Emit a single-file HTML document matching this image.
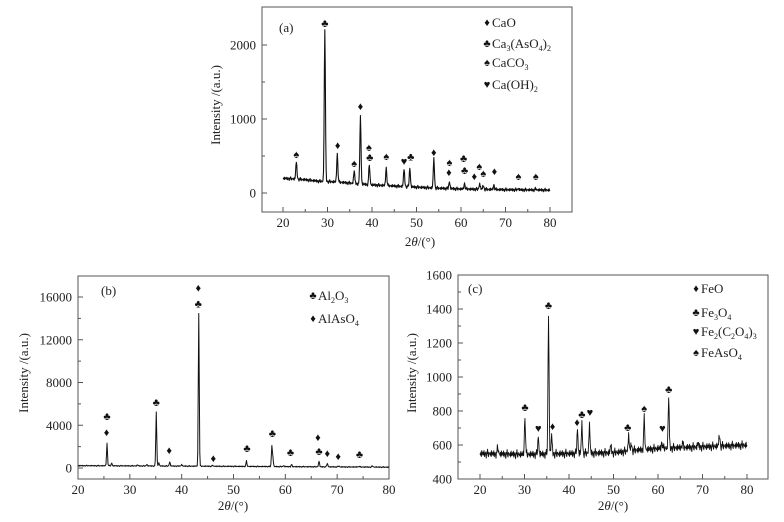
<!DOCTYPE html>
<html><head><meta charset="utf-8"><style>
html,body{margin:0;padding:0;background:#fff;}
svg{display:block;font-family:"Liberation Serif",serif;}
</style></head><body>
<svg id="fig" width="784" height="522" viewBox="0 0 784 522"></svg>
<script>
// ---------- Data: chart (a) ----------
const aPeakX = [23.0, 29.4, 32.2, 36.0, 37.4, 39.4, 43.2, 47.2, 48.5, 53.9, 57.4, 60.8, 64.2, 65.0, 67.4, 72.9, 76.8];
const aPeakY = [235, 2050, 380, 170, 915, 270, 240, 235, 250, 395, 90, 75, 75, 50, 60, 15, 15];
const aBaseX = [20, 25, 28, 32, 36, 40, 45, 50, 55, 60, 70, 80];
const aBaseY = [200, 180, 160, 150, 130, 110, 95, 80, 65, 55, 45, 40];
const aMarkSym = ["♠","♣","♦","♠","♦","♠","♣","♠","♥","♣","♦","♠","♦","♣","♣","♦","♠","♠","♦","♠","♠"];
const aMarkX = [23.0, 29.4, 32.3, 36.0, 37.4, 39.3, 39.5, 43.2, 47.2, 48.7, 53.9, 57.4, 57.3, 60.6, 60.8, 63.0, 64.1, 65.0, 67.5, 72.9, 76.8];
const aMarkY = [525, 2300, 650, 405, 1175, 620, 485, 500, 430, 490, 555, 420, 285, 475, 310, 230, 365, 270, 300, 230, 230];
const aLegendSym = ["♦","♣","♠","♥"];
const aLegendTxt = ["CaO","Ca<tspan font-size='8' dy='3'>3</tspan><tspan dy='-3'>(AsO</tspan><tspan font-size='8' dy='3'>4</tspan><tspan dy='-3'>)</tspan><tspan font-size='8' dy='3'>2</tspan>","CaCO<tspan font-size='8' dy='3'>3</tspan>","Ca(OH)<tspan font-size='8' dy='3'>2</tspan>"];
const aYTicks = [0, 1000, 2000];
const aXTicks = [20, 30, 40, 50, 60, 70, 80];

// ---------- Data: chart (b) ----------
const bPeakX = [25.6, 26.5, 31.5, 33.3, 35.1, 35.6, 37.7, 40.0, 43.3, 46.0, 52.5, 57.4, 57.6, 59.7, 61.2, 66.5, 68.1, 70.3, 74.2, 76.8];
const bPeakY = [2100, 250, 100, 150, 5100, 300, 400, 150, 14300, 80, 500, 1900, 800, 100, 200, 550, 350, 100, 80, 120];
const bBaseX = [20, 40, 60, 80];
const bBaseY = [220, 180, 130, 80];
const bMarkSym = ["♣","♦","♣","♦","♦","♣","♦","♣","♣","♣","♦","♣","♦","♦","♣"];
const bMarkX = [25.6, 25.5, 35.1, 37.6, 43.2, 43.2, 46.1, 52.6, 57.5, 61.0, 66.3, 66.5, 68.1, 70.2, 74.3];
const bMarkY = [4870, 3370, 6170, 1680, 16900, 15400, 940, 1870, 3270, 1500, 2900, 1590, 1400, 1120, 1310];
const bLegendSym = ["♣","♦"];
const bLegendTxt = ["Al<tspan font-size='8' dy='3'>2</tspan><tspan dy='-3'>O</tspan><tspan font-size='8' dy='3'>3</tspan>","AlAsO<tspan font-size='8' dy='3'>4</tspan>"];
const bYTicks = [0, 4000, 8000, 12000, 16000];
const bXTicks = [20, 30, 40, 50, 60, 70, 80];

// ---------- Data: chart (c) ----------
const cPeakX = [24.0, 30.1, 33.1, 35.4, 36.1, 41.9, 42.9, 44.6, 49.4, 53.4, 54.0, 56.9, 60.9, 62.4, 65.5, 69.0, 73.8];
const cPeakY = [40, 220, 100, 810, 110, 140, 175, 165, 45, 90, 40, 185, 40, 295, 30, 25, 65];
const cBaseX = [20, 30, 40, 50, 55, 60, 70, 80];
const cBaseY = [550, 545, 550, 555, 570, 580, 590, 600];
const cMarkSym = ["♣","♥","♣","♦","♦","♣","♥","♣","♠","♥","♣"];
const cMarkX = [30.1, 33.1, 35.4, 36.3, 41.8, 42.9, 44.7, 53.2, 56.9, 61.0, 62.4];
const cMarkY = [823, 700, 1424, 712, 735, 782, 794, 706, 818, 700, 929];
const cLegendSym = ["♦","♣","♥","♠"];
const cLegendTxt = ["FeO","Fe<tspan font-size='8' dy='3'>3</tspan><tspan dy='-3'>O</tspan><tspan font-size='8' dy='3'>4</tspan>","Fe<tspan font-size='8' dy='3'>2</tspan><tspan dy='-3'>(C</tspan><tspan font-size='8' dy='3'>2</tspan><tspan dy='-3'>O</tspan><tspan font-size='8' dy='3'>4</tspan><tspan dy='-3'>)</tspan><tspan font-size='8' dy='3'>3</tspan>","FeAsO<tspan font-size='8' dy='3'>4</tspan>"];
const cYTicks = [400, 600, 800, 1000, 1200, 1400, 1600];
const cXTicks = [20, 30, 40, 50, 60, 70, 80];

const NS = "http://www.w3.org/2000/svg";
const svg = document.getElementById("fig");
function mk(tag, attrs, parent) {
  const e = document.createElementNS(NS, tag);
  for (const k in attrs) e.setAttribute(k, attrs[k]);
  (parent || svg).appendChild(e);
  return e;
}
function interp(xs, ys, x) {
  if (x <= xs[0]) return ys[0];
  for (let i = 1; i < xs.length; i++) if (x <= xs[i]) {
    const t = (x - xs[i-1]) / (xs[i] - xs[i-1]);
    return ys[i-1] + t * (ys[i] - ys[i-1]);
  }
  return ys[ys.length - 1];
}
// visual line texture (stroke roughness only, not data)
const texture = [0,1,-1,2,-2,1,0,-1,1,-2,2,0,-1,1,3,-1,0,-3,1,2,-1,0];

function drawChart(cfg) {
  const g = mk("g", {});
  
  
  const sx = v => cfg.px0 + (v - cfg.x0) * (cfg.px1 - cfg.px0) / (cfg.x1 - cfg.x0);
  const sy = v => cfg.py0 + (v - cfg.y0) * (cfg.py1 - cfg.py0) / (cfg.y1 - cfg.y0);
  const fr = mk("rect", {x: cfg.L, y: cfg.T, width: cfg.R - cfg.L, height: cfg.B - cfg.T, fill: "none", stroke: "#555", "stroke-width": 1}, g);
  
  
  cfg.xTicks.forEach((t, i) => {
    const x = sx(t);
    mk("line", {x1: x, x2: x, y1: cfg.B, y2: cfg.B - 5, stroke: "#555"}, g);
    if (i < cfg.xTicks.length - 1) { const xm = sx(t + 5); mk("line", {x1: xm, x2: xm, y1: cfg.B, y2: cfg.B - 3, stroke: "#555"}, g); }
    const tx = mk("text", {x: x, y: cfg.B + 15, "font-size": 13, "text-anchor": "middle", fill: "#222"}, g);
    tx.textContent = t;
    
    
  });
  cfg.yTicks.forEach((t, i) => {
    const y = sy(t);
    mk("line", {x1: cfg.L, x2: cfg.L + 5, y1: y, y2: y, stroke: "#555"}, g);
    if (i < cfg.yTicks.length - 1) { const ym = sy((t + cfg.yTicks[i+1]) / 2); mk("line", {x1: cfg.L, x2: cfg.L + 3, y1: ym, y2: ym, stroke: "#555"}, g); }
    const ty = mk("text", {x: cfg.L - 6, y: y + 4.5, "font-size": 13, "text-anchor": "end", fill: "#222"}, g);
    ty.textContent = t;
    
    
  });
  let d = "", k = 0;
  for (let x = 20; x <= 80.0001; x += 0.1) {
    let v = interp(cfg.baseX, cfg.baseY, x);
    for (let i = 0; i < cfg.peakX.length; i++) {
      const dx = (x - cfg.peakX[i]) / cfg.width;
      v += cfg.peakY[i] * Math.exp(-0.5 * dx * dx);
    }
    const py = sy(v) + texture[k % texture.length] * cfg.rough;
    d += (k ? "L" : "M") + sx(x).toFixed(2) + "," + py.toFixed(2);
    k++;
  }
  const p = mk("path", {d: d, fill: "none", stroke: "#111", "stroke-width": cfg.sw, "stroke-linejoin": "round"}, g);
  
  
  cfg.markX.forEach((mx, i) => {
    const t = mk("text", {x: sx(mx), y: sy(cfg.markY[i]) + 4, "font-size": 11, "text-anchor": "middle", fill: "#111"}, g);
    t.textContent = cfg.markSym[i];
    
    
  });
  cfg.legSym.forEach((s, i) => {
    const y = cfg.legY[i];
    const le = mk("g", {}, g);
    
    
    const sm = mk("text", {x: cfg.legX, y: y + 4, "font-size": 11, "text-anchor": "middle", fill: "#111"}, le);
    sm.textContent = s;
    const tt = mk("text", {x: cfg.legX + 5, y: y + 5, "font-size": 13, fill: "#222"}, le);
    tt.innerHTML = cfg.legTxt[i];
  });
  const lab = mk("text", {x: cfg.labX, y: cfg.labY, "font-size": 13, fill: "#222"}, g);
  lab.textContent = cfg.label;
  
  
  const yt = mk("text", {x: 0, y: 0, "font-size": 13, "text-anchor": "middle", fill: "#222", transform: "translate(" + cfg.ytX + "," + cfg.ytY + ") rotate(-90)"}, g);
  yt.textContent = "Intensity /(a.u.)";
  
  
  const xt = mk("text", {x: cfg.xtX, y: cfg.xtY, "font-size": 13, "text-anchor": "middle", fill: "#222"}, g);
  xt.innerHTML = "2<tspan font-style='italic'>θ</tspan>/(°)";
  
  
}

drawChart({name: "chart-a", L: 262, R: 572, T: 7, B: 212, x0: 20, x1: 80, px0: 283, px1: 550, y0: 0, y1: 2000, py0: 193, py1: 45,
  xTicks: aXTicks, yTicks: aYTicks, peakX: aPeakX, peakY: aPeakY, baseX: aBaseX, baseY: aBaseY, width: 0.13, rough: 0.6, sw: 1.1,
  markX: aMarkX, markY: aMarkY, markSym: aMarkSym, legSym: aLegendSym, legTxt: aLegendTxt, legX: 487, legY: [22, 43, 62, 84],
  label: "(a)", labX: 279, labY: 32, ytX: 220, ytY: 105, xtX: 420, xtY: 246});
drawChart({name: "chart-b", L: 78, R: 389, T: 276, B: 479, x0: 20, x1: 80, px0: 78, px1: 389, y0: 0, y1: 16000, py0: 468, py1: 297,
  xTicks: bXTicks, yTicks: bYTicks, peakX: bPeakX, peakY: bPeakY, baseX: bBaseX, baseY: bBaseY, width: 0.09, rough: 0.2, sw: 1,
  markX: bMarkX, markY: bMarkY, markSym: bMarkSym, legSym: bLegendSym, legTxt: bLegendTxt, legX: 313, legY: [295, 318],
  label: "(b)", labX: 101, labY: 295, ytX: 28, ytY: 373, xtX: 233, xtY: 510});
drawChart({name: "chart-c", L: 458, R: 768, T: 275, B: 479, x0: 20, x1: 80, px0: 480, px1: 747, y0: 400, y1: 1600, py0: 479, py1: 275,
  xTicks: cXTicks, yTicks: cYTicks, peakX: cPeakX, peakY: cPeakY, baseX: cBaseX, baseY: cBaseY, width: 0.12, rough: 1.5, sw: 0.9,
  markX: cMarkX, markY: cMarkY, markSym: cMarkSym, legSym: cLegendSym, legTxt: cLegendTxt, legX: 696, legY: [288, 312, 331, 352],
  label: "(c)", labX: 468, labY: 293, ytX: 416, ytY: 373, xtX: 613, xtY: 510});
</script>
</body></html>
